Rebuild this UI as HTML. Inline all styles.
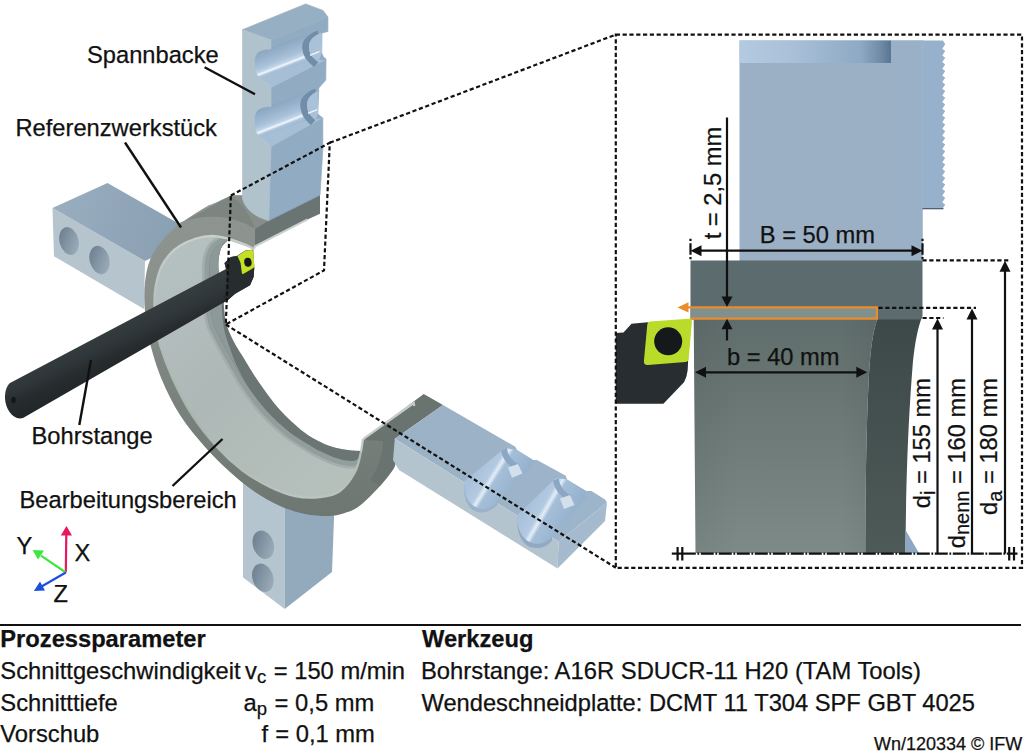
<!DOCTYPE html>
<html><head><meta charset="utf-8">
<style>
html,body{margin:0;padding:0;background:#fff;}
body{width:1024px;height:752px;overflow:hidden;font-family:"Liberation Sans",sans-serif;}
svg{display:block;}
text{font-family:"Liberation Sans",sans-serif;fill:#111;stroke:#111;stroke-width:0.25px;}
</style></head><body>
<svg width="1024" height="752" viewBox="0 0 1024 752">
<defs>


<linearGradient id="dJawTop" x1="0" y1="0" x2="1" y2="0">
 <stop offset="0" stop-color="#b4cae0"/><stop offset="0.35" stop-color="#a9c0d8"/><stop offset="0.8" stop-color="#8ea9c3"/><stop offset="0.93" stop-color="#6f8ba6"/><stop offset="1" stop-color="#587591"/>
</linearGradient>
<linearGradient id="dWp" x1="0" y1="0" x2="0" y2="1">
 <stop offset="0" stop-color="#5f6d6c"/><stop offset="0.35" stop-color="#697673"/><stop offset="1" stop-color="#7d8a87"/>
</linearGradient>
<linearGradient id="dWpH" x1="0" y1="0" x2="1" y2="0">
 <stop offset="0" stop-color="#000" stop-opacity="0.05"/><stop offset="0.25" stop-color="#000" stop-opacity="0"/><stop offset="0.8" stop-color="#000" stop-opacity="0"/><stop offset="1" stop-color="#000" stop-opacity="0.06"/>
</linearGradient>
<linearGradient id="dDark" x1="0" y1="0" x2="0" y2="1">
 <stop offset="0" stop-color="#3d4948"/><stop offset="1" stop-color="#4d5a58"/>
</linearGradient>
<marker id="ah" viewBox="0 0 10 10" refX="10" refY="5" markerWidth="10" markerHeight="11" markerUnits="userSpaceOnUse" orient="auto-start-reverse"><path d="M0,0 L10,5 L0,10Z" fill="#111"/></marker>


<linearGradient id="gInner" x1="150" y1="250" x2="380" y2="480" gradientUnits="userSpaceOnUse">
 <stop offset="0" stop-color="#b6c1c3"/><stop offset="0.45" stop-color="#aeb8b6"/><stop offset="1" stop-color="#b7c1bc"/>
</linearGradient>
<linearGradient id="gFront" x1="0" y1="195" x2="0" y2="520" gradientUnits="userSpaceOnUse">
 <stop offset="0" stop-color="#8f9692"/><stop offset="0.3" stop-color="#8a918d"/><stop offset="0.55" stop-color="#7c8580"/><stop offset="1" stop-color="#6d7671"/>
</linearGradient>
<linearGradient id="gCham" x1="0" y1="230" x2="0" y2="500" gradientUnits="userSpaceOnUse">
 <stop offset="0" stop-color="#cbd2cd"/><stop offset="0.35" stop-color="#b4bdb8"/><stop offset="0.7" stop-color="#aab4ae"/><stop offset="1" stop-color="#bcc6c0"/>
</linearGradient>
<linearGradient id="gBarX" x1="100" y1="334" x2="118" y2="372" gradientUnits="userSpaceOnUse">
 <stop offset="0" stop-color="#353c3d"/><stop offset="0.3" stop-color="#30373a"/><stop offset="0.6" stop-color="#272d2f"/><stop offset="1" stop-color="#212628"/>
</linearGradient>
<linearGradient id="gLJtop" x1="60" y1="200" x2="170" y2="240" gradientUnits="userSpaceOnUse">
 <stop offset="0" stop-color="#98adbe"/><stop offset="1" stop-color="#8aa0b3"/>
</linearGradient>
<linearGradient id="gHole" x1="0" y1="0" x2="1" y2="1">
 <stop offset="0" stop-color="#67798a"/><stop offset="1" stop-color="#a3b3c0"/>
</linearGradient>
<linearGradient id="gGroove" x1="272" y1="47" x2="281.8" y2="72.1" gradientUnits="userSpaceOnUse"><stop offset="0" stop-color="#8ba6c1"/><stop offset="0.3" stop-color="#9ab4cd"/><stop offset="0.55" stop-color="#a9c2da"/><stop offset="0.7" stop-color="#bdd3e7"/><stop offset="0.78" stop-color="#f2f7fc"/><stop offset="0.86" stop-color="#abc4dc"/><stop offset="1" stop-color="#9db7cf"/></linearGradient>
<linearGradient id="gGroove2" x1="272" y1="105" x2="281.8" y2="130.1" gradientUnits="userSpaceOnUse"><stop offset="0" stop-color="#8ba6c1"/><stop offset="0.3" stop-color="#9ab4cd"/><stop offset="0.55" stop-color="#a9c2da"/><stop offset="0.7" stop-color="#bdd3e7"/><stop offset="0.78" stop-color="#f2f7fc"/><stop offset="0.86" stop-color="#abc4dc"/><stop offset="1" stop-color="#9db7cf"/></linearGradient>
<linearGradient id="gGrooveR" x1="0" y1="0" x2="1" y2="0.55">
 <stop offset="0" stop-color="#a6bfd8"/><stop offset="0.3" stop-color="#a9c2db"/><stop offset="0.47" stop-color="#b3cae1"/><stop offset="0.52" stop-color="#e3eef8"/><stop offset="0.57" stop-color="#a5bfd9"/><stop offset="1" stop-color="#8eaac6"/>
</linearGradient>
<linearGradient id="gRJtop" x1="400" y1="430" x2="600" y2="520" gradientUnits="userSpaceOnUse">
 <stop offset="0" stop-color="#9bb1c5"/><stop offset="1" stop-color="#9db5cb"/>
</linearGradient>

</defs>
<rect width="1024" height="752" fill="#fff"/>
<g id="scene">

<path d="M52.5,208 L145,261 L144,309 L54,256.3Z" fill="#b5c4cd"/>
<path d="M52.5,208 L107.5,183 L176,222 L190,240 L145,261Z" fill="url(#gLJtop)"/>
<ellipse cx="69" cy="241" rx="9.5" ry="14.2" transform="rotate(-14 69 241)" fill="url(#gHole)"/>
<ellipse cx="99.5" cy="260" rx="9.8" ry="14.5" transform="rotate(-14 99.5 260)" fill="url(#gHole)"/>

<path d="M243,470 L284.7,500 L284.7,609 L243,577.5Z" fill="#b5c5d0"/>
<path d="M284.7,500 L334.5,505 L332,572 L284.7,609Z" fill="#93aabd"/>
<ellipse cx="263.3" cy="544.7" rx="10.3" ry="14.5" transform="rotate(-18 263.3 544.7)" fill="url(#gHole)"/>
<ellipse cx="262.8" cy="577.8" rx="10.3" ry="14.5" transform="rotate(-18 262.8 577.8)" fill="url(#gHole)"/>
<path d="M254.0,249.0 C252.3,248.2 248.2,245.8 243.8,244.0 C239.4,242.2 233.1,239.8 227.8,238.5 C222.5,237.2 217.3,236.0 212.0,236.0 C206.7,236.0 201.3,236.9 196.0,238.5 C190.7,240.1 184.3,243.1 180.0,245.7 C175.7,248.3 173.2,250.4 170.0,254.0 C166.8,257.6 163.4,261.9 161.0,267.5 C158.6,273.1 156.6,281.2 155.5,287.5 C154.4,293.8 154.4,298.8 154.5,305.0 C154.6,311.2 155.1,318.3 156.0,325.0 C156.9,331.7 157.3,336.3 160.0,345.0 C162.7,353.7 166.7,365.3 172.0,377.0 C177.3,388.7 184.5,403.3 192.0,415.0 C199.5,426.7 208.7,437.8 217.0,447.0 C225.3,456.2 233.2,463.3 242.0,470.0 C250.8,476.7 261.2,482.7 270.0,487.0 C278.8,491.3 286.7,494.3 295.0,496.0 C303.3,497.7 312.5,497.8 320.0,497.0 C327.5,496.2 334.2,495.2 340.0,491.0 C345.8,486.8 351.5,478.5 355.0,472.0 C358.5,465.5 359.7,457.4 361.0,452.0 C362.3,446.6 362.6,441.8 362.9,439.8 L362.9,439.8 C362.4,441.7 362.8,449.3 360.0,451.0 C357.2,452.7 350.7,450.5 346.0,449.8 C341.3,449.1 336.3,448.1 332.0,446.8 C327.7,445.5 324.7,444.3 320.0,441.8 C315.3,439.3 310.4,437.4 303.7,432.0 C297.0,426.6 287.1,417.9 279.7,409.7 C272.2,401.5 265.1,391.4 259.0,382.6 C252.9,373.8 247.3,363.9 243.0,357.0 C238.7,350.1 236.3,346.8 233.4,341.0 C230.5,335.2 227.5,329.3 225.8,322.0 C224.1,314.7 224.0,303.8 223.0,297.0 C222.0,290.2 220.7,286.3 219.9,281.0 C219.1,275.7 218.2,270.3 218.3,265.0 C218.4,259.7 219.1,253.2 220.7,249.0 C222.3,244.8 226.6,241.5 227.8,240.0Z" fill="url(#gInner)"/>
<clipPath id="cpInner"><path d="M254.0,249.0 C252.3,248.2 248.2,245.8 243.8,244.0 C239.4,242.2 233.1,239.8 227.8,238.5 C222.5,237.2 217.3,236.0 212.0,236.0 C206.7,236.0 201.3,236.9 196.0,238.5 C190.7,240.1 184.3,243.1 180.0,245.7 C175.7,248.3 173.2,250.4 170.0,254.0 C166.8,257.6 163.4,261.9 161.0,267.5 C158.6,273.1 156.6,281.2 155.5,287.5 C154.4,293.8 154.4,298.8 154.5,305.0 C154.6,311.2 155.1,318.3 156.0,325.0 C156.9,331.7 157.3,336.3 160.0,345.0 C162.7,353.7 166.7,365.3 172.0,377.0 C177.3,388.7 184.5,403.3 192.0,415.0 C199.5,426.7 208.7,437.8 217.0,447.0 C225.3,456.2 233.2,463.3 242.0,470.0 C250.8,476.7 261.2,482.7 270.0,487.0 C278.8,491.3 286.7,494.3 295.0,496.0 C303.3,497.7 312.5,497.8 320.0,497.0 C327.5,496.2 334.2,495.2 340.0,491.0 C345.8,486.8 351.5,478.5 355.0,472.0 C358.5,465.5 359.7,457.4 361.0,452.0 C362.3,446.6 362.6,441.8 362.9,439.8 L362.9,439.8 C362.4,441.7 362.8,449.3 360.0,451.0 C357.2,452.7 350.7,450.5 346.0,449.8 C341.3,449.1 336.3,448.1 332.0,446.8 C327.7,445.5 324.7,444.3 320.0,441.8 C315.3,439.3 310.4,437.4 303.7,432.0 C297.0,426.6 287.1,417.9 279.7,409.7 C272.2,401.5 265.1,391.4 259.0,382.6 C252.9,373.8 247.3,363.9 243.0,357.0 C238.7,350.1 236.3,346.8 233.4,341.0 C230.5,335.2 227.5,329.3 225.8,322.0 C224.1,314.7 224.0,303.8 223.0,297.0 C222.0,290.2 220.7,286.3 219.9,281.0 C219.1,275.7 218.2,270.3 218.3,265.0 C218.4,259.7 219.1,253.2 220.7,249.0 C222.3,244.8 226.6,241.5 227.8,240.0Z"/></clipPath>
<g clip-path="url(#cpInner)"><path d="M227.8,240.0 C225.8,241.2 218.9,244.0 216.0,247.0 C213.1,250.0 211.6,253.8 210.5,258.0 C209.4,262.2 209.6,266.7 209.5,272.0 C209.4,277.3 209.8,283.7 210.0,290.0 C210.2,296.3 210.5,304.7 211.0,310.0 C211.5,315.3 212.2,318.7 213.0,322.0 C213.8,325.3 213.4,324.7 216.0,330.0 C218.6,335.3 223.6,345.0 228.7,354.0 C233.8,363.0 239.9,374.6 246.3,384.2 C252.7,393.8 259.8,403.3 267.0,411.3 C274.2,419.3 281.9,426.1 289.3,432.0 C296.7,437.9 306.5,443.2 311.6,446.4 C316.7,449.6 315.9,449.1 320.0,451.0 C324.1,452.9 330.7,456.3 336.0,458.0 C341.3,459.7 348.2,461.0 352.0,461.0 C355.8,461.0 357.5,459.5 359.0,458.0 C360.5,456.5 360.7,453.0 361.0,452.0" fill="none" stroke="#a3aead" stroke-width="15"/><path d="M227.8,240.0 C225.8,241.2 218.9,244.0 216.0,247.0 C213.1,250.0 211.6,253.8 210.5,258.0 C209.4,262.2 209.6,266.7 209.5,272.0 C209.4,277.3 209.8,283.7 210.0,290.0 C210.2,296.3 210.5,304.7 211.0,310.0 C211.5,315.3 212.2,318.7 213.0,322.0 C213.8,325.3 213.4,324.7 216.0,330.0 C218.6,335.3 223.6,345.0 228.7,354.0 C233.8,363.0 239.9,374.6 246.3,384.2 C252.7,393.8 259.8,403.3 267.0,411.3 C274.2,419.3 281.9,426.1 289.3,432.0 C296.7,437.9 306.5,443.2 311.6,446.4 C316.7,449.6 315.9,449.1 320.0,451.0 C324.1,452.9 330.7,456.3 336.0,458.0 C341.3,459.7 348.2,461.0 352.0,461.0 C355.8,461.0 357.5,459.5 359.0,458.0 C360.5,456.5 360.7,453.0 361.0,452.0" fill="none" stroke="#929e9c" stroke-width="10"/></g>
<path d="M227.8,240.0 C225.8,241.2 218.9,244.0 216.0,247.0 C213.1,250.0 211.6,253.8 210.5,258.0 C209.4,262.2 209.6,266.7 209.5,272.0 C209.4,277.3 209.8,283.7 210.0,290.0 C210.2,296.3 210.5,304.7 211.0,310.0 C211.5,315.3 212.2,318.7 213.0,322.0 C213.8,325.3 213.4,324.7 216.0,330.0 C218.6,335.3 223.6,345.0 228.7,354.0 C233.8,363.0 239.9,374.6 246.3,384.2 C252.7,393.8 259.8,403.3 267.0,411.3 C274.2,419.3 281.9,426.1 289.3,432.0 C296.7,437.9 306.5,443.2 311.6,446.4 C316.7,449.6 315.9,449.1 320.0,451.0 C324.1,452.9 330.7,456.3 336.0,458.0 C341.3,459.7 348.2,461.0 352.0,461.0 C355.8,461.0 357.5,459.5 359.0,458.0 C360.5,456.5 360.7,453.0 361.0,452.0 L360.0,451.0 C357.7,450.8 350.7,450.5 346.0,449.8 C341.3,449.1 336.3,448.1 332.0,446.8 C327.7,445.5 324.7,444.3 320.0,441.8 C315.3,439.3 310.4,437.4 303.7,432.0 C297.0,426.6 287.1,417.9 279.7,409.7 C272.2,401.5 265.1,391.4 259.0,382.6 C252.9,373.8 247.3,363.9 243.0,357.0 C238.7,350.1 236.3,346.8 233.4,341.0 C230.5,335.2 227.5,329.3 225.8,322.0 C224.1,314.7 224.0,303.8 223.0,297.0 C222.0,290.2 220.7,286.3 219.9,281.0 C219.1,275.7 218.2,270.3 218.3,265.0 C218.4,259.7 219.1,253.2 220.7,249.0 C222.3,244.8 226.6,241.5 227.8,240.0Z" fill="#6b7573"/>
<path d="M227.8,240.0 C225.8,241.2 218.9,244.0 216.0,247.0 C213.1,250.0 211.6,253.8 210.5,258.0 C209.4,262.2 209.6,266.7 209.5,272.0 C209.4,277.3 209.8,283.7 210.0,290.0 C210.2,296.3 210.5,304.7 211.0,310.0 C211.5,315.3 212.2,318.7 213.0,322.0 C213.8,325.3 213.4,324.7 216.0,330.0 C218.6,335.3 223.6,345.0 228.7,354.0 C233.8,363.0 243.4,379.2 246.3,384.2 L246.3,384.2 C244.6,380.8 238.8,370.2 236.0,364.0 C233.2,357.8 231.3,352.2 229.5,347.0 C227.7,341.8 226.2,337.8 225.0,333.0 C223.8,328.2 223.1,323.5 222.5,318.0 C221.9,312.5 221.9,306.2 221.5,300.0 C221.1,293.8 220.4,286.8 219.9,281.0 C219.4,275.2 218.2,270.3 218.3,265.0 C218.4,259.7 219.1,253.2 220.7,249.0 C222.3,244.8 226.6,241.5 227.8,240.0Z" fill="#8d9998"/>
<path d="M230.9,195.5 C228.2,196.8 219.3,201.0 215.0,203.0 C210.7,205.0 210.8,204.0 205.0,207.5 C199.2,211.0 187.1,218.3 180.0,223.8 C172.9,229.2 167.5,234.0 162.5,240.0 C157.5,246.0 152.9,252.9 150.0,260.0 C147.1,267.1 145.9,275.0 145.0,282.5 C144.1,290.0 144.2,297.9 144.5,305.0 C144.8,312.1 145.9,318.0 147.0,325.0 C148.1,332.0 148.5,337.8 151.0,347.0 C153.5,356.2 157.2,368.7 162.0,380.0 C166.8,391.3 172.8,403.8 180.0,415.0 C187.2,426.2 196.7,437.5 205.0,447.0 C213.3,456.5 221.7,464.5 230.0,472.0 C238.3,479.5 246.7,486.3 255.0,492.0 C263.3,497.7 271.7,502.3 280.0,506.0 C288.3,509.7 296.7,512.3 305.0,514.0 C313.3,515.7 323.2,516.2 330.0,516.0 C336.8,515.8 341.0,514.3 346.0,512.6 C351.0,510.9 354.3,510.0 360.0,505.6 C365.7,501.2 374.3,492.3 380.0,486.0 C385.7,479.7 391.2,473.2 394.0,468.0 C396.8,462.8 396.4,459.7 396.5,455.0 C396.6,450.3 395.1,442.3 394.8,439.8 L362.9,439.8 C362.6,441.8 362.3,446.6 361.0,452.0 C359.7,457.4 358.5,465.5 355.0,472.0 C351.5,478.5 345.8,486.8 340.0,491.0 C334.2,495.2 327.5,496.2 320.0,497.0 C312.5,497.8 303.3,497.7 295.0,496.0 C286.7,494.3 278.8,491.3 270.0,487.0 C261.2,482.7 250.8,476.7 242.0,470.0 C233.2,463.3 225.3,456.2 217.0,447.0 C208.7,437.8 199.5,426.7 192.0,415.0 C184.5,403.3 177.3,388.7 172.0,377.0 C166.7,365.3 162.7,353.7 160.0,345.0 C157.3,336.3 156.9,331.7 156.0,325.0 C155.1,318.3 154.6,311.2 154.5,305.0 C154.4,298.8 154.4,293.8 155.5,287.5 C156.6,281.2 158.6,273.1 161.0,267.5 C163.4,261.9 166.8,257.6 170.0,254.0 C173.2,250.4 175.7,248.3 180.0,245.7 C184.3,243.1 190.7,240.1 196.0,238.5 C201.3,236.9 206.7,236.0 212.0,236.0 C217.3,236.0 222.5,237.2 227.8,238.5 C233.1,239.8 239.4,242.2 243.8,244.0 C248.2,245.8 252.3,248.2 254.0,249.0 L255,246.3 L255,228.8 L268.8,220.6 L260,200 L242.5,196Z" fill="url(#gFront)"/>
<path d="M175,226.5 L230.9,195.5 L244,195.5 L244,190 L270,190 L270,220 L255,228.8 C244,222.5 232,218 219.7,217.1 C206,216 193,218 181.4,221.9 L175,226.5Z" fill="#7c857f"/>
<path d="M255,228.8 L268.8,219 L320,193 L320,213.8 L307.5,219.4 L255,246.3Z" fill="#6a7472"/>
<path d="M230.9,195.5 L244,195.5 L244,190 L270,190 L270,220 L255,228.8 C250,215 242,203 230.9,195.5Z" fill="#878e8a"/>
<path d="M254.0,249.0 C252.3,248.2 248.2,245.8 243.8,244.0 C239.4,242.2 233.1,239.8 227.8,238.5 C222.5,237.2 217.3,236.0 212.0,236.0 C206.7,236.0 201.3,236.9 196.0,238.5 C190.7,240.1 184.3,243.1 180.0,245.7 C175.7,248.3 173.2,250.4 170.0,254.0 C166.8,257.6 163.4,261.9 161.0,267.5 C158.6,273.1 156.6,281.2 155.5,287.5 C154.4,293.8 154.4,298.8 154.5,305.0 C154.6,311.2 155.1,318.3 156.0,325.0 C156.9,331.7 157.3,336.3 160.0,345.0 C162.7,353.7 166.7,365.3 172.0,377.0 C177.3,388.7 184.5,403.3 192.0,415.0 C199.5,426.7 208.7,437.8 217.0,447.0 C225.3,456.2 233.2,463.3 242.0,470.0 C250.8,476.7 261.2,482.7 270.0,487.0 C278.8,491.3 286.7,494.3 295.0,496.0 C303.3,497.7 312.5,497.8 320.0,497.0 C327.5,496.2 334.2,495.2 340.0,491.0 C345.8,486.8 351.5,478.5 355.0,472.0 C358.5,465.5 360.0,455.3 361.0,452.0" fill="none" stroke="url(#gCham)" stroke-width="2.3"/>
<path d="M254,249 L255,246.3 L307.5,219.4" fill="none" stroke="#c8d0cc" stroke-width="2"/>
<path d="M362.9,439.8 L364.9,437.8 L423.7,394 L443,405 L394.8,438.8 L396.5,455 L394,468 L380,486 L370,480 C379,468 383,452 383,441Z" fill="#697370"/>
<path d="M361,452 L362.9,439.8 L364.9,437.8 L413.7,403 L414.3,406" fill="none" stroke="#c5cdc8" stroke-width="2.2"/>

<g stroke-width="0.7" stroke-linejoin="round">
<path d="M271,40.1 L327.9,17 L327.9,31.5 L322,33 L321.7,53 L323.4,57 L326,59 L325.8,80 L318.8,88 L317.8,114 L322.8,118 L322.8,150 L320,195 L268.8,220.6Z" fill="#91abc3" stroke="#91abc3"/>
<path d="M242.5,29.7 L305.7,3.9 L323.1,10.5 L327.9,17 L271,40.1Z" fill="#97afc2" stroke="#97afc2"/>
<path d="M272,47 L318,30.5 L322,33 L321.7,53 L309,60 L262,80 L251,72 L251,50Z" fill="url(#gGroove)"/>
<path d="M272,105 L317.8,88.5 L317.8,114 L308,120 L262,139 L251,130 L251,108Z" fill="url(#gGroove2)"/>
<path d="M260,78 L309,60 L325.8,60 L271,88Z" fill="#a7bfd4"/>
<path d="M260,137 L308,120 L322.8,118 L271,147Z" fill="#a7bfd4"/>
<path d="M317.4,30.5 C305,36 301,42 302.5,50 C303.5,57 308,62 314,67 L318.5,62 C312,58 309,53 309,47 C309,41 312,37.5 318.5,34Z" fill="#718da8"/>
<path d="M315,88.5 C303,94 299,100 300.5,108 C301.5,115 305,120 311,125 L315.5,120 C310,116 307,111 307,105 C307,99 310,95.5 316,92Z" fill="#718da8"/>
<path d="M318.5,34 C312,37.5 309,41 309,47 C309,53 312,58 318.5,62 L321.7,53 L322,33Z" fill="#a9c2da"/>
<path d="M316,92 C310,95.5 307,99 307,105 C307,111 310,116 315.5,120 L317.8,114 L317.8,91Z" fill="#a9c2da"/>
<path d="M310,54.5 L319.5,50.8 L319.5,52.2 L310,56Z" fill="#eef4fa"/>
<path d="M308,112.5 L317,109 L317,110.4 L308,114Z" fill="#eef4fa"/>
<path d="M242.5,29.7 L271,40.1 L271,49 C264,49 255.5,50.5 254.6,59 C254,67 254.5,74 260,78 L271,88 L271,106.5 C263,106.5 255.5,108 254.6,117 C254,126 254.5,133 260,137 L271,147 L268.8,220.6 C254,217 245,208 242.5,198.5Z" fill="#b0c3cd" stroke="#b0c3cd"/>
</g>

<path d="M443,405 L515.3,446.8 L517,450 L533,460 L537,460 L565.8,475.7 L567,479.5 L586,491 L591.5,491 L605,499.4 L607,502.5 L558.6,541.6 L394.8,438.8Z" fill="url(#gRJtop)"/>
<path d="M394.8,438.8 L558.6,541.6 L557.5,568.5 L399,470 L393,460Z" fill="#b4c4cf"/>
<path d="M558.6,541.6 L607,502.5 L605,521 L557.5,568.5Z" fill="#a5bacc"/>

<path d="M464.5,481 L505,448 L517,450 L533,460 L531,468 L497.5,500.5 C493,507 485,510 478,508 C468,505 463,493 464.5,481Z" fill="url(#gGrooveR)"/>
<path d="M517.5,515 L556,478 L567,479.5 L586,491 L585,499 L552,536.5 C547,543 539,545 532,543 C522,540 516,527 517.5,515Z" fill="url(#gGrooveR)"/>
<path d="M464.5,481 C463,493 468,505 478,508 C485,510 493,507 497.5,500.5 L497.5,504.5 C491,512 483,514 476,511.5 C466,508 462.5,495 464.5,481Z" fill="#9ab3cb"/>
<path d="M517.5,515 C516,527 522,540 532,543 C539,545 547,543 552,536.5 L552,540.5 C546,548 538,549.5 530,547 C520,543 516,529 517.5,515Z" fill="#90aac3"/>
<path d="M501,451 C503,460 508,466 516,468 L520,464.5 C513,462 508,456 506.5,447.5Z" fill="#8ca7c3"/>
<path d="M553,481 C555,490 560,497 568,499 L572,495.5 C565,493 560,487 558.5,478Z" fill="#8ca7c3"/>
<path d="M508,467.4 L518,464 L522.5,473.6 L512,477.7Z" fill="#d3e0ec"/>
<path d="M560,498.5 L570,495 L574.5,505 L564,509Z" fill="#d3e0ec"/>
<path d="M10,383 L226,269 L224.5,263 L230.9,257.1 L236.7,256 L245.7,250.2 L253.2,249.7 L254.3,267.2 L253.7,276.8 L250,285.3 L235.1,293.8 L228,300 L23,418 C13,421 4.5,408 5,396 C5.5,389 7.5,385 10,383Z" fill="url(#gBarX)"/>

<path d="M226,269 L224.5,263 L230.9,257.1 L236.7,256 L240.4,262 L242,274.7 L254.3,267.2 L253.7,276.8 L250,285.3 L235.1,293.8 L228,300 L222,303.5 C226,295 228,282 226,269Z" fill="#272c2f"/>
<path d="M237.5,256 L245.7,250.4 L251.5,249.9 Q253.3,249.8 253.4,251.6 L254.3,265.8 Q254.4,267.4 253,268.2 L243.6,273.8 Q242.1,274.6 241.9,273 L240.6,263Z" fill="#c4e024"/>
<ellipse cx="247.9" cy="262.2" rx="3.7" ry="4.5" transform="rotate(-8 247.9 262.2)" fill="#16191b"/>
<ellipse cx="13.5" cy="400" rx="2.3" ry="3.3" fill="#15181a"/>

<g stroke-width="2.2" fill="none">
<line x1="65.8" y1="572.5" x2="66.3" y2="534" stroke="#e8185f"/>
<line x1="65.8" y1="572.5" x2="41" y2="555.7" stroke="#3fe63f"/>
<line x1="65.8" y1="572.5" x2="42" y2="586.3" stroke="#1c4fe0"/>
</g>
<path d="M66.5,526 L60.8,535.5 L72,535.5Z" fill="#e8185f"/>
<path d="M32.6,550 L44,550.5 L38,559.5Z" fill="#3fe63f"/>
<path d="M33.9,591 L40,581.5 L45,590.5Z" fill="#1c4fe0"/>

</g>
<g id="detail">


<!-- jaw -->
<rect x="739.5" y="40.5" width="183" height="220.5" fill="#9bb0c4"/>
<rect x="739.5" y="40.5" width="151.5" height="22.5" fill="url(#dJawTop)"/>
<rect x="891" y="40.5" width="31.5" height="220" fill="#9ab0c6"/>
<path d="M922.5,40.5 L943.0,40.5 L945.2,44.3 L942.3,48.7 L945.2,51.0 L942.3,55.4 L945.2,57.7 L942.3,62.0 L945.2,64.4 L942.3,68.7 L945.2,71.1 L942.3,75.4 L945.2,77.7 L942.3,82.1 L945.2,84.4 L942.3,88.8 L945.2,91.1 L942.3,95.4 L945.2,97.8 L942.3,102.1 L945.2,104.5 L942.3,108.8 L945.2,111.1 L942.3,115.5 L945.2,117.8 L942.3,122.2 L945.2,124.5 L942.3,128.8 L945.2,131.2 L942.3,135.5 L945.2,137.9 L942.3,142.2 L945.2,144.5 L942.3,148.9 L945.2,151.2 L942.3,155.6 L945.2,157.9 L942.3,162.2 L945.2,164.6 L942.3,168.9 L945.2,171.3 L942.3,175.6 L945.2,177.9 L942.3,182.3 L945.2,184.6 L942.3,189.0 L945.2,191.3 L942.3,195.6 L945.2,198.0 L942.3,202.3 L945.2,204.7 L942.3,209.0 L943.5,209.0 L922.5,209.0Z" fill="#97b0cc"/>
<rect x="921.5" y="40.5" width="2" height="168.5" fill="#9ab3ce"/>
<rect x="922.5" y="208" width="21" height="1.3" fill="#4e6076"/>
<!-- workpiece -->
<path d="M693.7,317 L878,317 C873,330 870.5,349 869,374 C866.5,420 865.5,480 865.3,553 L695.5,553 Z" fill="url(#dWp)"/>
<path d="M693.7,317 L878,317 C873,330 870.5,349 869,374 C866.5,420 865.5,480 865.3,553 L695.5,553 Z" fill="url(#dWpH)"/>
<path d="M878,317 L922,317 C918,327 915,342 913,361 C909,410 906,470 905.5,553 L865.3,553 C865.5,480 866.5,420 869,374 C870.5,349 873,330 878,317Z" fill="url(#dDark)"/>
<path d="M905.5,530 L919,553 L905.5,553Z" fill="#8da7c5"/>
<path d="M690.5,260.5 L922.5,260.5 L922.5,316 L921,319.5 L690.5,319.5Z" fill="#5b6b6e"/>
<!-- orange rect -->
<rect x="690.5" y="307" width="186.4" height="11.6" fill="#80908f"/>
<path d="M686,307.4 L876.9,307.4 L876.9,318.6 L690.5,318.6" fill="none" stroke="#e98c2c" stroke-width="2.2"/>
<path d="M677.5,307.4 L688.5,302.2 L688.5,312.6Z" fill="#e98c2c"/>
<!-- holder -->
<path d="M615.7,333 L623.5,332.5 L631.5,323.7 L648,322.2 L688.5,340 L688.1,361.2 L687.7,370 L686.5,376.3 L684.2,382 L663.4,403.7 L615.7,403.7Z" fill="#272d30"/>
<path d="M650,321.6 L688.6,318.7 Q692.2,318.5 691.9,322 L688.7,358.5 Q688.5,361.8 685.2,362.1 L648,365 Q643.6,365.3 643.9,361 L647.3,324.4 Q647.5,321.8 650,321.6Z" fill="#badb2a"/>
<circle cx="668.2" cy="341.3" r="14" fill="#15191b"/>

</g>
<g id="lines">


<g fill="none" stroke="#111" stroke-width="2.2">
<!-- big box -->
<rect x="615.8" y="34.6" width="406.2" height="533.2" stroke-dasharray="4.2 2.6"/>
<!-- projection lines -->
<path d="M230.9,195.5 L329.8,142.8 L324,270.4 L225.8,324.5 Z" stroke-dasharray="4.2 2.6"/>
<path d="M329.8,142.8 L615.8,34.6" stroke-dasharray="4.2 2.6"/>
<path d="M225.8,324.5 L615.8,567.8" stroke-dasharray="4.2 2.6"/>
<!-- dims -->
<line x1="690.5" y1="238.8" x2="690.5" y2="259.8" stroke-dasharray="2.2 2.2 11.6 2.2 2.2 50"/>
<line x1="922.5" y1="238.8" x2="922.5" y2="259.8" stroke-dasharray="2.2 2.2 11.6 2.2 2.2 50"/>
<line x1="700" y1="250.7" x2="913" y2="250.7"/>
<line x1="727" y1="117.5" x2="727" y2="298"/>
<line x1="727" y1="328" x2="727" y2="340.5"/>
<line x1="704" y1="372.3" x2="858" y2="372.3"/>
<line x1="922.5" y1="260.4" x2="1010" y2="260.4" stroke-dasharray="4.2 2.6"/>
<line x1="878.5" y1="307.8" x2="976" y2="307.8" stroke-dasharray="4.2 2.6"/>
<line x1="922.5" y1="318" x2="943.5" y2="318" stroke-dasharray="4.2 2.6"/>
<line x1="937.5" y1="553.5" x2="937.5" y2="328"/>
<line x1="972" y1="553.5" x2="972" y2="318"/>
<line x1="1005" y1="553.5" x2="1005" y2="270"/>
<line x1="671.8" y1="553.6" x2="695.8" y2="553.6"/><line x1="695.8" y1="553.6" x2="1017.5" y2="553.6" stroke-dasharray="13 1.6 1.8 1.6" stroke-dashoffset="13"/>
<path d="M677.6,547 V560.5 M682.3,547 V560.5 M1009.2,547 V560.5 M1014,547 V560.5"/>
</g>
<g fill="#111">
<path d="M690.5,250.7 L701.5,245.2 L701.5,256.2Z"/>
<path d="M922.5,250.7 L911.5,245.2 L911.5,256.2Z"/>
<path d="M727,307 L721.5,296.5 L732.5,296.5Z"/>
<path d="M727,318.8 L721.5,329.3 L732.5,329.3Z"/>
<path d="M695,372.3 L706,366.8 L706,377.8Z"/>
<path d="M867.3,372.3 L856.3,366.8 L856.3,377.8Z"/>
<path d="M937.5,318.6 L932,329.6 L943,329.6Z"/>
<path d="M972,308.4 L966.5,319.4 L977.5,319.4Z"/>
<path d="M1005,260.8 L999.5,271.8 L1010.5,271.8Z"/>
</g>
<g font-size="23.7">
<text x="759.8" y="243">B = 50 mm</text>
<text x="727" y="364.5">b = 40 mm</text>
<text transform="translate(721.3,239.3) rotate(-90)">t = 2,5 mm</text>
<text transform="translate(930,378) rotate(-90)" text-anchor="end">d<tspan font-size="20" dy="4.7">i</tspan><tspan dy="-4.7"> = 155 mm</tspan></text>
<text transform="translate(964.5,378) rotate(-90)" text-anchor="end">d<tspan font-size="20" dy="4.7">nenn</tspan><tspan dy="-4.7"> = 160 mm</tspan></text>
<text transform="translate(997,378) rotate(-90)" text-anchor="end">d<tspan font-size="20" dy="4.7">a</tspan><tspan dy="-4.7"> = 180 mm</tspan></text>
</g>

</g>
<g id="labels">

<g stroke="#111" stroke-width="2.4" fill="none">
<line x1="204.6" y1="67.2" x2="255" y2="94.2"/>
<line x1="125" y1="142.5" x2="181" y2="227.5"/>
<line x1="91" y1="360" x2="79.3" y2="425"/>
<line x1="222.5" y1="439" x2="172.5" y2="486"/>
</g>
<g font-size="23.7">
<text x="87" y="62.5">Spannbacke</text>
<text x="15.5" y="136">Referenzwerkstück</text>
<text x="31.5" y="443.5">Bohrstange</text>
<text x="19.5" y="507.5">Bearbeitungsbereich</text>
<text x="16.5" y="554">Y</text>
<text x="74.5" y="561">X</text>
<text x="53.5" y="602">Z</text>
</g>

</g>
<g id="footer">

<rect x="0" y="624" width="1021" height="2" fill="#111"/>
<text x="0.3" y="647" font-size="23.7" font-weight="bold" stroke-width="0.1">Prozessparameter</text>
<text x="422" y="647" font-size="23.7" font-weight="bold" stroke-width="0.1">Werkzeug</text>
<text x="0.3" y="678.7" font-size="23.75">Schnittgeschwindigkeit</text>
<text x="245" y="678.7" font-size="23.75">v<tspan font-size="18.5" dy="4.5">c</tspan><tspan dy="-4.5" dx="1"> = 150 m/min</tspan></text>
<text x="421" y="678.7" font-size="23.8">Bohrstange: A16R SDUCR-11 H20 (TAM Tools)</text>
<text x="0.3" y="710.5" font-size="23.75">Schnitttiefe</text>
<text x="243.5" y="710.5" font-size="23.75">a<tspan font-size="18.5" dy="4.5">p</tspan><tspan dy="-4.5" dx="1"> = 0,5 mm</tspan></text>
<text x="421.5" y="710.5" font-size="23.7">Wendeschneidplatte: DCMT 11 T304 SPF GBT 4025</text>
<text x="0.3" y="742.3" font-size="23.75">Vorschub</text>
<text x="261.5" y="742.3" font-size="23.75">f<tspan dx="0.5"> = 0,1 mm</tspan></text>
<text x="874" y="749.5" font-size="18">Wn/120334 © IFW</text>

</g>
</svg>
</body></html>
